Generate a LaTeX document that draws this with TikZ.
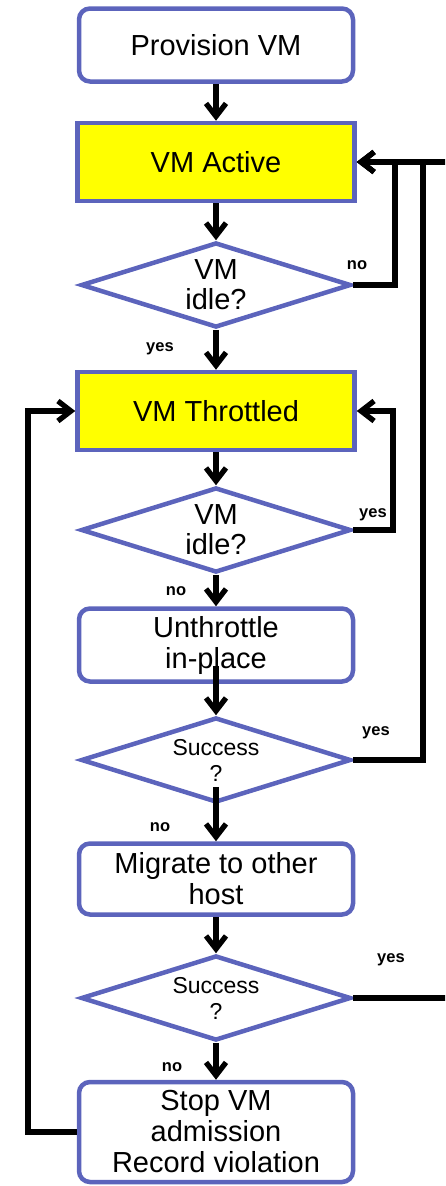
\documentclass[tikz,border=0pt]{standalone}
\usepackage{fontspec}
\setmainfont{Liberation Sans}
\usetikzlibrary{shapes.geometric,arrows.meta}
\definecolor{bordblue}{RGB}{92,100,188}
\definecolor{boxyellow}{RGB}{255,255,0}
\tikzset{
  rbox/.style={draw=bordblue,line width=4.5pt,rounded corners=11pt,fill=white,
    minimum width=274pt,minimum height=73pt,inner sep=0pt,align=center,
    font=\fontsize{29}{31}\selectfont},
  ybox/.style={draw=bordblue,line width=4.5pt,fill=boxyellow,
    minimum width=277pt,minimum height=78pt,inner sep=0pt,align=center,
    font=\fontsize{29}{31}\selectfont},
  dec/.style={draw=bordblue,line width=4.5pt,fill=white,diamond,aspect=3.18,
    minimum width=270pt,minimum height=85pt,inner sep=0pt,align=center},
  bigtxt/.style={font=\fontsize{29}{30}\selectfont},
  smalltxt/.style={font=\fontsize{23}{26}\selectfont},
  lab/.style={font=\fontsize{16.5}{18}\selectfont\bfseries,inner sep=0pt},
  arr/.style={line width=5.3pt,-{Straight Barb[length=13pt,width=20pt]}},
}
\begin{document}
\begin{tikzpicture}[x=1pt,y=-1pt]
\useasboundingbox (0,0) rectangle (445,1186);
\clip (0,0) rectangle (445,1186);
% nodes
\node[rbox] (prov) at (216,45) {Provision VM};
\node[ybox] (act) at (216,162) {VM Active};
\node[dec,bigtxt] (d1) at (216,285) {VM\\idle?};
\node[ybox] (thr) at (216,411) {VM Throttled};
\node[dec,bigtxt] (d2) at (216,530) {VM\\idle?};
\node[rbox] (unth) at (216,645) {Unthrottle\\in-place};
\node[dec,smalltxt] (d3) at (216,760) {Success\\?};
\node[rbox,minimum height=71pt] (migr) at (216,879) {Migrate to other\\host};
\node[dec,smalltxt] (d4) at (216,998) {Success\\?};
\node[rbox,minimum height=100pt] (stop) at (216,1132) {Stop VM\\admission\\Record violation};
% loop-back corners
\coordinate (r1) at (395,162);
\coordinate (r2) at (423,162);
\coordinate (r3) at (452,162);
\coordinate (r4) at (393,411);
\coordinate (l1) at (28,411);
% straight arrows
\draw[arr] (prov) -- (act);
\draw[arr] (act) -- (d1);
\draw[arr] (d1) -- (thr);
\draw[arr] (thr) -- (d2);
\draw[arr] (d2) -- (unth);
\draw[arr] ([yshift=18pt]unth.south) -- (d3.north);
\draw[arr] ([yshift=18pt]d3.south) -- (migr.north);
\draw[arr] (migr) -- (d4);
\draw[arr] (d4) -- (stop);
% loop backs
\draw[arr] (d1.east) -| (r1) -- (act.east);
\draw[arr] (d3.east) -| (r2) -- (act.east);
\draw[arr] (d4.east) -| (r3) -- (act.east);
\draw[arr] (d2.east) -| (r4) -- (thr.east);
\draw[arr] (stop.west) -| (l1) -- (thr.west);
% labels
\node[lab] (n1) at (357,265) {no};
\node[lab] (y1) at (160,349) {yes};
\node[lab] (y2) at (373,515) {yes};
\node[lab] (n2) at (176,591) {no};
\node[lab] (y3) at (376,733) {yes};
\node[lab] (n3) at (160,827) {no};
\node[lab] (y4) at (391,960) {yes};
\node[lab] (n4) at (172,1067) {no};
\end{tikzpicture}
\end{document}
